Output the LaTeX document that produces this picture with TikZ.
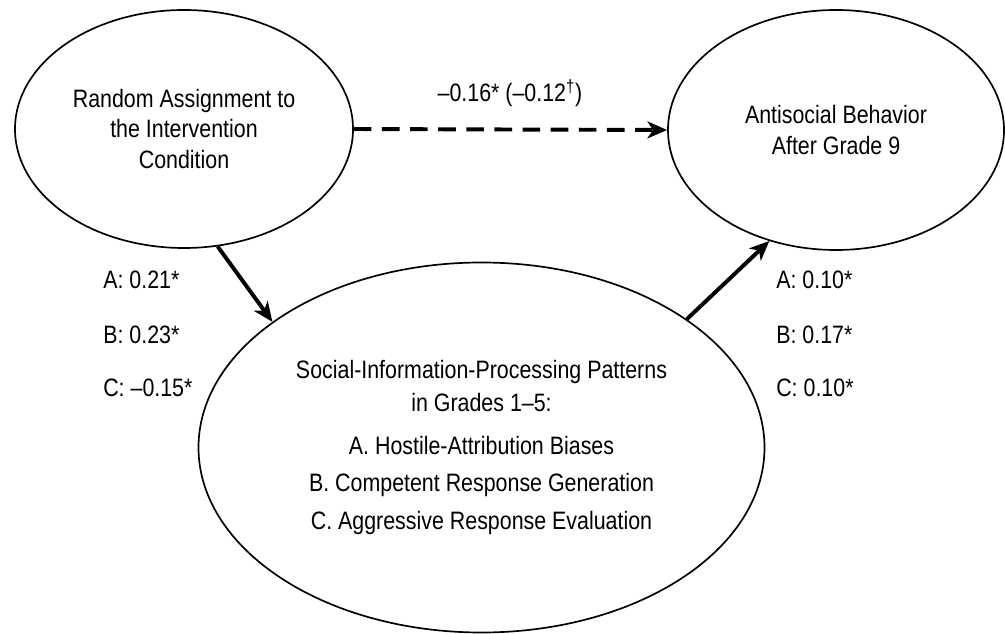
\documentclass[tikz,border=0pt]{standalone}
\usepackage{fontspec}
\newfontfamily\condsans{Liberation Sans}[FakeStretch=0.85]
\usepackage{tikz}
\usetikzlibrary{positioning, arrows.meta, shapes.geometric}

\begin{document}
\begin{tikzpicture}[
  x=0.025cm, y=0.025cm,
  var/.style={draw, ellipse, line width=1.2pt, inner sep=0pt, align=center, font=\condsans\fontsize{17.9}{21.8}\selectfont},
  coef/.style={anchor=west, inner sep=0pt, font=\condsans\fontsize{17.9}{21.8}\selectfont},
  arrow/.style={-{Stealth[length=14pt, width=12pt, inset=4pt]}, line width=2.8pt},
  dasharrow/.style={arrow, dash pattern=on 12.5pt off 7.5pt}
]
  \useasboundingbox (0,0) rectangle (1005,633);

  \node[var, minimum width=338*0.025cm, minimum height=238*0.025cm] (assign) at (184,504)
    {Random Assignment to\\the Intervention\\Condition};
  \node[var, minimum width=336*0.025cm, minimum height=240*0.025cm] (antisocial) at (836,503)
    {Antisocial Behavior\\After Grade 9};
  \node[var, minimum width=566*0.025cm, minimum height=370*0.025cm] (sip) at (481.5,185.5)
    {Social-Information-Processing Patterns\\[1.4pt]in Grades 1–5:\\[9pt]
     A. Hostile-Attribution Biases\\[4.5pt]B. Competent Response Generation\\[5pt]C. Aggressive Response Evaluation};

  \draw[dasharrow] (assign.east) -- (antisocial.west);
  \draw[arrow] (assign.-74.5) -- (sip.149.2);
  \draw[arrow] (sip.32.5) -- (antisocial.-121);

  \node[coef, anchor=center] (direct) at (510,540) {–0.16* (–0.12\textsuperscript{†})};

  \node[coef] (la) at (103,353) {A: 0.21*};
  \node[coef] (lb) at (103,298) {B: 0.23*};
  \node[coef] (lc) at (103,245) {C: –0.15*};

  \node[coef] (ra) at (776,353) {A: 0.10*};
  \node[coef] (rb) at (776,298) {B: 0.17*};
  \node[coef] (rc) at (776,245) {C: 0.10*};
\end{tikzpicture}
\end{document}
